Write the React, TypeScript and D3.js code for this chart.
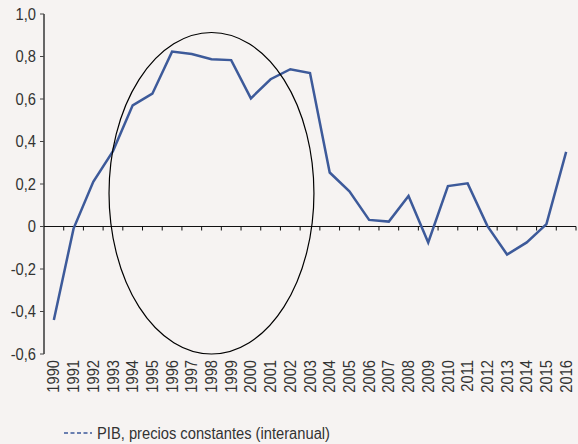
import React from "react";
import * as d3 from "d3";

const years = d3.range(1990, 2017).map(String);
const pib = [
  -0.44, -0.01, 0.21, 0.355, 0.57, 0.625, 0.823, 0.812, 0.787, 0.783, 0.603, 0.693,
  0.74, 0.722, 0.254, 0.166, 0.031, 0.023, 0.144, -0.075, 0.19, 0.203, 0.003, -0.132,
  -0.075, 0.011, 0.351,
];
const yTicks = [-0.6, -0.4, -0.2, 0, 0.2, 0.4, 0.6, 0.8, 1.0];
const legendLabel = "PIB, precios constantes (interanual)";
// highlighted period (ellipse annotation)
const ellipseCenterYear = "1998";
const ellipseHalfWidthBands = 5.2;
const ellipseTop = 0.913;
const ellipseBottom = -0.6;

const W = 578;
const H = 444;
const left = 44;
const right = 576;
const top = 14;
const bottom = 354;
const font = "'Liberation Sans', Arial, sans-serif";
const sx = 0.92;

export default function App() {
  const x = d3.scaleBand<string>().domain(years).range([left, right]);
  const y = d3.scaleLinear().domain([-0.6, 1.0]).range([bottom, top]);
  const bw = x.bandwidth();
  const cx = (d: string) => (x(d) as number) + bw / 2;
  const line = d3
    .line<number>()
    .x((_, i) => cx(years[i]))
    .y((v) => y(v));
  const fmt = (v: number) => (v === 0 ? "0" : d3.format(".1f")(v).replace(".", ",").replace("−", "-"));
  const ex = cx(ellipseCenterYear);
  const ey = (y(ellipseTop) + y(ellipseBottom)) / 2;
  const erx = bw * ellipseHalfWidthBands;
  const ery = (y(ellipseBottom) - y(ellipseTop)) / 2;
  const y0 = y(0);
  return (
    <svg width={W} height={H} style={{ position: "absolute", left: 0, top: 0 }}>
      <rect x={0} y={0} width={W} height={H} fill="#f6f3f2" />
      {/* y axis */}
      <line x1={left} x2={left} y1={top} y2={bottom} stroke="#666" strokeWidth={2} />
      {yTicks.map((t) => (
        <g key={t}>
          <line x1={left - 4} x2={left} y1={y(t)} y2={y(t)} stroke="#444" strokeWidth={1} />
          <text
            transform={`translate(${left - 8},${y(t)}) scale(${sx},1)`}
            dy="0.35em"
            textAnchor="end"
            fontFamily={font}
            fontSize={16}
            fill="#333"
          >
            {fmt(t)}
          </text>
        </g>
      ))}
      {/* x axis at zero */}
      <line x1={left} x2={right} y1={y0} y2={y0} stroke="#111" strokeWidth={1.2} />
      {years.map((yr) => (
        <line
          key={"t" + yr}
          x1={(x(yr) as number) + bw}
          x2={(x(yr) as number) + bw}
          y1={y0}
          y2={y0 + 4}
          stroke="#111"
          strokeWidth={1}
        />
      ))}
      {years.map((yr) => (
        <text
          key={"l" + yr}
          transform={`translate(${cx(yr)},${bottom + 6}) rotate(-90) scale(${sx},1)`}
          dy="0.35em"
          textAnchor="end"
          fontFamily={font}
          fontSize={16}
          fill="#333"
        >
          {yr}
        </text>
      ))}
      <path d={line(pib) || ""} fill="none" stroke="#3d5a9a" strokeWidth={2.5} strokeLinejoin="miter" />
      <ellipse cx={ex} cy={ey} rx={erx} ry={ery} fill="none" stroke="#000" strokeWidth={1.2} />
      {/* legend */}
      <line x1={64} x2={92} y1={433} y2={433} stroke="#3d5a9a" strokeWidth={1.5} strokeDasharray="4,2.5" />
      <text
        transform={`translate(97,433) scale(${sx},1)`}
        dy="0.35em"
        fontFamily={font}
        fontSize={16}
        fill="#333"
      >
        {legendLabel}
      </text>
    </svg>
  );
}
